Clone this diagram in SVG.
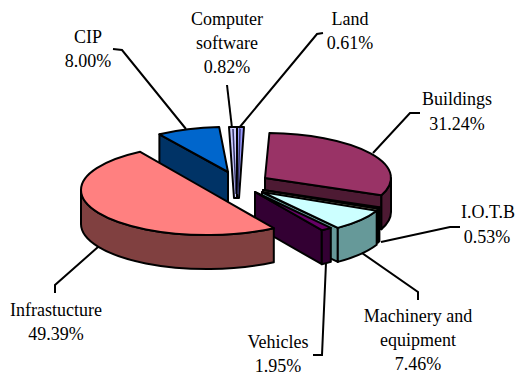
<svg xmlns="http://www.w3.org/2000/svg" width="518" height="377" viewBox="0 0 518 377">
<style>
.s{stroke:#000;stroke-width:2;stroke-linejoin:round}
.t{font-family:'Liberation Serif','DejaVu Serif',serif;font-size:18px;fill:#000;text-anchor:middle}
.l{fill:none;stroke:#000;stroke-width:2}
</style>
<rect width="518" height="377" fill="#fff"/>
<g id="cip">
<path class="s" fill="#003366" d="M228,172 L159.4,134.3 L159.4,168.3 L228,206 Z"/>
<path class="s" fill="#0066cc" d="M228,172 L159.4,134.3 A126,45 0 0 1 219.2,127.1 Z"/>
</g>
<g id="software">
<path class="s" fill="#ccccff" d="M229,127 L237,127 L237,198 L234,198 Z"/>
<path fill="none" stroke="#333366" stroke-width="1.5" d="M233,129 L236,194"/>
</g>
<g id="land">
<path class="s" fill="#9999ff" d="M237,127 L244,127 L239,198 L237,198 Z"/>
<path fill="none" stroke="#333366" stroke-width="1.5" d="M240,129 L238,194"/>
</g>
<g id="buildings">
<path class="s" fill="#4d1a33" d="M265,178 L381.4,195.2 L381.4,229.2 L265,212 Z"/>
<path class="s" fill="#4d1a33" d="M391,178 A126,45 0 0 1 381.4,195.2 L381.4,229.2 A126,45 0 0 0 391,212 Z"/>
<path class="s" fill="#993366" d="M265,178 L269.4,133 A126,45 0 0 1 381.4,195.2 Z"/>
</g>
<g id="iotb">
<path class="s" fill="#999980" d="M263,190 L377.7,208.6 L377.7,242.6 L263,224 Z"/>
<path class="s" fill="#cccc99" d="M379.4,207.2 A126,45 0 0 1 377.7,208.6 L377.7,242.6 A126,45 0 0 0 379.4,241.2 Z"/>
<path class="s" fill="#ffffcc" d="M263,190 L379.4,207.2 A126,45 0 0 1 377.7,208.6 Z"/>
</g>
<g id="machinery">
<path class="s" fill="#669999" d="M262,192 L337.8,227.9 L337.8,261.9 L262,226 Z"/>
<path class="s" fill="#669999" d="M376.7,210.7 A126,45 0 0 1 337.8,227.9 L337.8,261.9 A126,45 0 0 0 376.7,244.7 Z"/>
<path class="s" fill="#ccffff" d="M262,192 L376.7,210.7 A126,45 0 0 1 337.8,227.9 Z"/>
</g>
<g id="vehicles">
<path class="s" fill="#330033" d="M255,192 L321.8,230.2 L321.8,264.2 L255,226 Z"/>
<path class="s" fill="#330033" d="M330.8,227.9 A126,45 0 0 1 321.8,230.2 L321.8,264.2 A126,45 0 0 0 330.8,261.9 Z"/>
<path class="s" fill="#660066" d="M255,192 L330.8,227.9 A126,45 0 0 1 321.8,230.2 Z"/>
</g>
<g id="infrastructure">
<path class="s" fill="#804040" d="M273.8,228.2 A126,45 0 0 1 81,190 L81,224 A126,45 0 0 0 273.8,262.2 Z"/>
<path class="s" fill="#ff8080" d="M207,190 L273.8,228.2 A126,45 0 0 1 81,190 A126,45 0 0 1 140.2,151.8 Z"/>
</g>
<g id="connectors">
<path class="l" d="M113,49 L122,50 L186,129"/>
<path class="l" d="M227,85 L232,128"/>
<path class="l" d="M323,33 L317,34 L239,128"/>
<path class="l" d="M420,113 L410,113 L373,153"/>
<path class="l" d="M460,227 L450,227 L381,242"/>
<path class="l" d="M418,300 L418,292 L362,253"/>
<path class="l" d="M313,355 L322,355 L326,263"/>
<path class="l" d="M55,293 L55,285 L98,247"/>
</g>
<g id="labels">
<text class="t" x="88" y="43">CIP</text>
<text class="t" x="88" y="67">8.00%</text>
<text class="t" x="227" y="25">Computer</text>
<text class="t" x="227" y="49">software</text>
<text class="t" x="227" y="73">0.82%</text>
<text class="t" x="350" y="25">Land</text>
<text class="t" x="350" y="49">0.61%</text>
<text class="t" x="457" y="105">Buildings</text>
<text class="t" x="457" y="130">31.24%</text>
<text class="t" x="488" y="218">I.O.T.B</text>
<text class="t" x="487" y="243">0.53%</text>
<text class="t" x="56" y="316">Infrastucture</text>
<text class="t" x="56" y="340">49.39%</text>
<text class="t" x="278" y="348">Vehicles</text>
<text class="t" x="278" y="372">1.95%</text>
<text class="t" x="418" y="322">Machinery and</text>
<text class="t" x="418" y="346">equipment</text>
<text class="t" x="418" y="370">7.46%</text>
</g>
</svg>
